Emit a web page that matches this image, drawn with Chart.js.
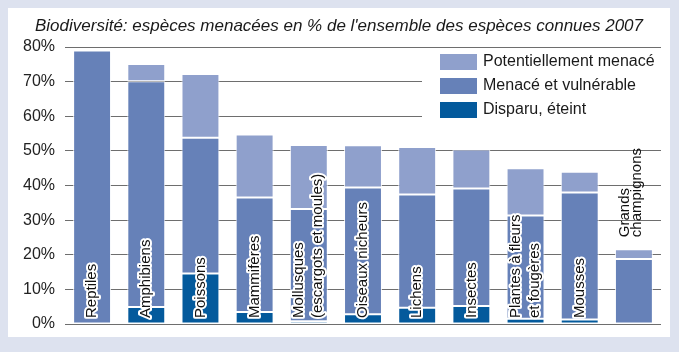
<!DOCTYPE html>
<html>
<head>
<meta charset="utf-8">
<script src="https://cdn.jsdelivr.net/npm/chart.js@4"></script>
<style>
  html, body { margin: 0; padding: 0; background: #dde2ef; }
  #wrap { width: 679px; height: 352px; position: relative; }
</style>
</head>
<body>
<div id="wrap"><canvas id="bio-chart" width="679" height="352"></canvas></div>
<script>
// data (segment values, stacked from the bottom)
var categories = [
  ['Reptiles'], ['Amphibiens'], ['Poissons'], ['Mammifères'],
  ['Mollusques', '(escargots et moules)'], ['Oiseaux nicheurs'], ['Lichens'],
  ['Insectes'], ['Plantes à fleurs', 'et fougères'], ['Mousses'], ['Grands', 'champignons']
];
var disparu   = [0, 4.9, 14.6, 3.5, 0.8, 2.8, 4.7, 5.2, 1.5, 1.3, 0];
var menace    = [79, 65.2, 39.2, 33, 32.4, 36.6, 32.7, 33.9, 29.8, 36.7, 18.8];
var potentiel = [0, 5, 18.4, 18.2, 18.5, 12.2, 13.7, 11.3, 13.7, 6, 2.8];
var yTicks = [0, 10, 20, 30, 40, 50, 60, 70, 80];
var seriesNames = ['Potentiellement menacé', 'Menacé et vulnérable', 'Disparu, éteint'];
var titleText = "Biodiversité: espèces menacées en % de l'ensemble des espèces connues 2007";

var cLight = '#8fa0cc', cMid = '#6681b8', cDark = '#045a9c';

// frame, title, legend and in-bar labels
var decoPlugin = {
  id: 'deco',
  beforeDraw: function(chart) {
    var ctx = chart.ctx;
    ctx.save();
    ctx.fillStyle = '#dde2ef';
    ctx.fillRect(0, 0, chart.width, chart.height);
    ctx.fillStyle = '#ffffff';
    ctx.fillRect(8, 8, 662, 329);
    ctx.fillStyle = '#1a1a1a';
    ctx.font = 'italic 17px "Liberation Sans", Arial, sans-serif';
    ctx.textAlign = 'center';
    ctx.textBaseline = 'middle';
    ctx.fillText(titleText, 339, 26);
    ctx.restore();
  },
  beforeDatasetsDraw: function(chart) {
    var ctx = chart.ctx;
    var cols = [cLight, cMid, cDark];
    ctx.save();
    ctx.fillStyle = '#ffffff';
    ctx.fillRect(422, 48, 240, 78);
    ctx.font = '16px "Liberation Sans", Arial, sans-serif';
    ctx.textBaseline = 'middle';
    ctx.textAlign = 'left';
    for (var i = 0; i < seriesNames.length; i++) {
      var y = 54 + i * 24;
      ctx.fillStyle = cols[i];
      ctx.fillRect(440, y, 37, 16);
      ctx.fillStyle = '#1a1a1a';
      ctx.fillText(seriesNames[i], 483, y + 8);
    }
    ctx.restore();
  },
  afterDatasetsDraw: function(chart) {
    var ctx = chart.ctx;
    var xs = chart.scales.x, ys = chart.scales.y;
    ctx.save();
    ctx.font = '15px "Liberation Sans", Arial, sans-serif';
    ctx.textAlign = 'left';
    ctx.textBaseline = 'middle';
    ctx.lineJoin = 'round';
    for (var i = 0; i < categories.length; i++) {
      var lines = categories[i];
      var total = disparu[i] + menace[i] + potentiel[i];
      var x = xs.getPixelForValue(i);
      var inside = total > 30;
      var y0 = inside ? ys.getPixelForValue(0) - 6 : ys.getPixelForValue(total) - 12;
      var lh = inside ? 19 : 12;
      ctx.save();
      ctx.translate(inside ? x : x - 3, y0);
      ctx.rotate(-Math.PI / 2);
      for (var j = 0; j < lines.length; j++) {
        var off = (j - (lines.length - 1) / 2) * lh;
        if (inside) {
          ctx.strokeStyle = '#ffffff';
          ctx.lineWidth = 4;
          ctx.strokeText(lines[j], 0, off);
        }
        ctx.fillStyle = '#111111';
        ctx.fillText(lines[j], 0, off);
      }
      ctx.restore();
    }
    ctx.restore();
  }
};

new Chart(document.getElementById('bio-chart'), {
  type: 'bar',
  data: {
    labels: categories.map(function(c) { return c.join(' '); }),
    datasets: [
      { label: seriesNames[2], data: disparu, backgroundColor: cDark },
      { label: seriesNames[1], data: menace, backgroundColor: cMid },
      { label: seriesNames[0], data: potentiel, backgroundColor: cLight }
    ]
  },
  options: {
    responsive: false,
    animation: false,
    layout: { padding: { left: 0, right: 18, top: 47, bottom: 28 } },
    datasets: {
      bar: {
        categoryPercentage: 1,
        barPercentage: 0.7,
        borderColor: 'rgba(255,255,255,0.85)',
        borderWidth: 1,
        borderSkipped: false
      }
    },
    plugins: {
      legend: { display: false },
      title: { display: false },
      tooltip: { enabled: false }
    },
    scales: {
      x: { stacked: true, display: false },
      y: {
        stacked: true,
        min: 0,
        max: 80,
        afterFit: function(scale) { scale.width = 65; },
        afterBuildTicks: function(scale) {
          scale.ticks = yTicks.map(function(v) { return { value: v }; });
        },
        border: { display: false },
        grid: { color: '#6e6e6e', lineWidth: 1, drawTicks: false },
        ticks: {
          padding: 10,
          color: '#222',
          font: { family: '"Liberation Sans", Arial, sans-serif', size: 16 },
          callback: function(v) { return v + '%'; }
        }
      }
    }
  },
  plugins: [decoPlugin]
});
</script>
</body>
</html>
